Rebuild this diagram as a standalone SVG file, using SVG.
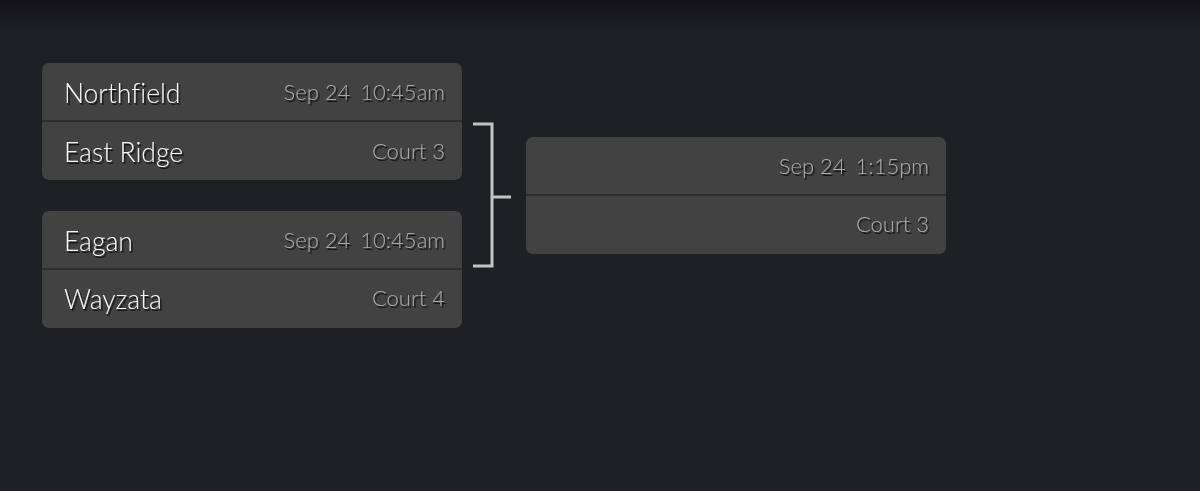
<svg xmlns="http://www.w3.org/2000/svg" width="1200" height="491" viewBox="0 0 1200 491">
<defs>
<linearGradient id="topg" x1="0" y1="0" x2="0" y2="1">
<stop offset="0" stop-color="#131317"/>
<stop offset="1" stop-color="#1f2024"/>
</linearGradient>
<filter id="sh" x="-10%" y="-30%" width="130%" height="170%">
<feDropShadow dx="1.5" dy="2" stdDeviation="0.6" flood-color="#111" flood-opacity="0.9"/>
</filter>
</defs>
<style>
.card{fill:#424242}
.div{stroke:#2e2e2e;stroke-width:2}
text{font-variant-ligatures:none}
.team{font-family:Lato,"Liberation Sans",sans-serif;font-size:26.5px;font-weight:300;fill:#f5f5f5;filter:url(#sh)}
.info{font-family:Lato,"Liberation Sans",sans-serif;font-size:22px;font-weight:300;fill:#a8a8a8;text-anchor:end;filter:url(#sh)}
.br{stroke:#c4c4c4;stroke-width:3;fill:none}
</style>
<rect width="1200" height="491" fill="#1f2024"/>
<rect width="1200" height="30" fill="url(#topg)"/>
<g id="match1">
<rect class="card" x="42" y="63" width="420" height="117" rx="7"/>
<line class="div" x1="42" y1="121" x2="462" y2="121"/>
<text class="team" x="64" y="103">Northfield</text>
<text class="info" x="445" y="100">Sep 24 <tspan dx="4">10:45am</tspan></text>
<text class="team" x="64" y="162">East Ridge</text>
<text class="info" x="445" y="159">Court 3</text>
</g>
<g id="match2">
<rect class="card" x="42" y="211" width="420" height="117" rx="7"/>
<line class="div" x1="42" y1="269" x2="462" y2="269"/>
<text class="team" x="64" y="251">Eagan</text>
<text class="info" x="445" y="248">Sep 24 <tspan dx="4">10:45am</tspan></text>
<text class="team" x="64" y="309">Wayzata</text>
<text class="info" x="445" y="306">Court 4</text>
</g>
<g id="match3">
<rect class="card" x="526" y="137" width="420" height="117" rx="7"/>
<line class="div" x1="526" y1="195" x2="946" y2="195"/>
<text class="info" x="929" y="174">Sep 24 <tspan dx="4">1:15pm</tspan></text>
<text class="info" x="929" y="232">Court 3</text>
</g>
<g id="connectors">
<path class="br" d="M473 124 H492 V266 H473"/>
<path class="br" d="M492 197 H511"/>
</g>
</svg>
